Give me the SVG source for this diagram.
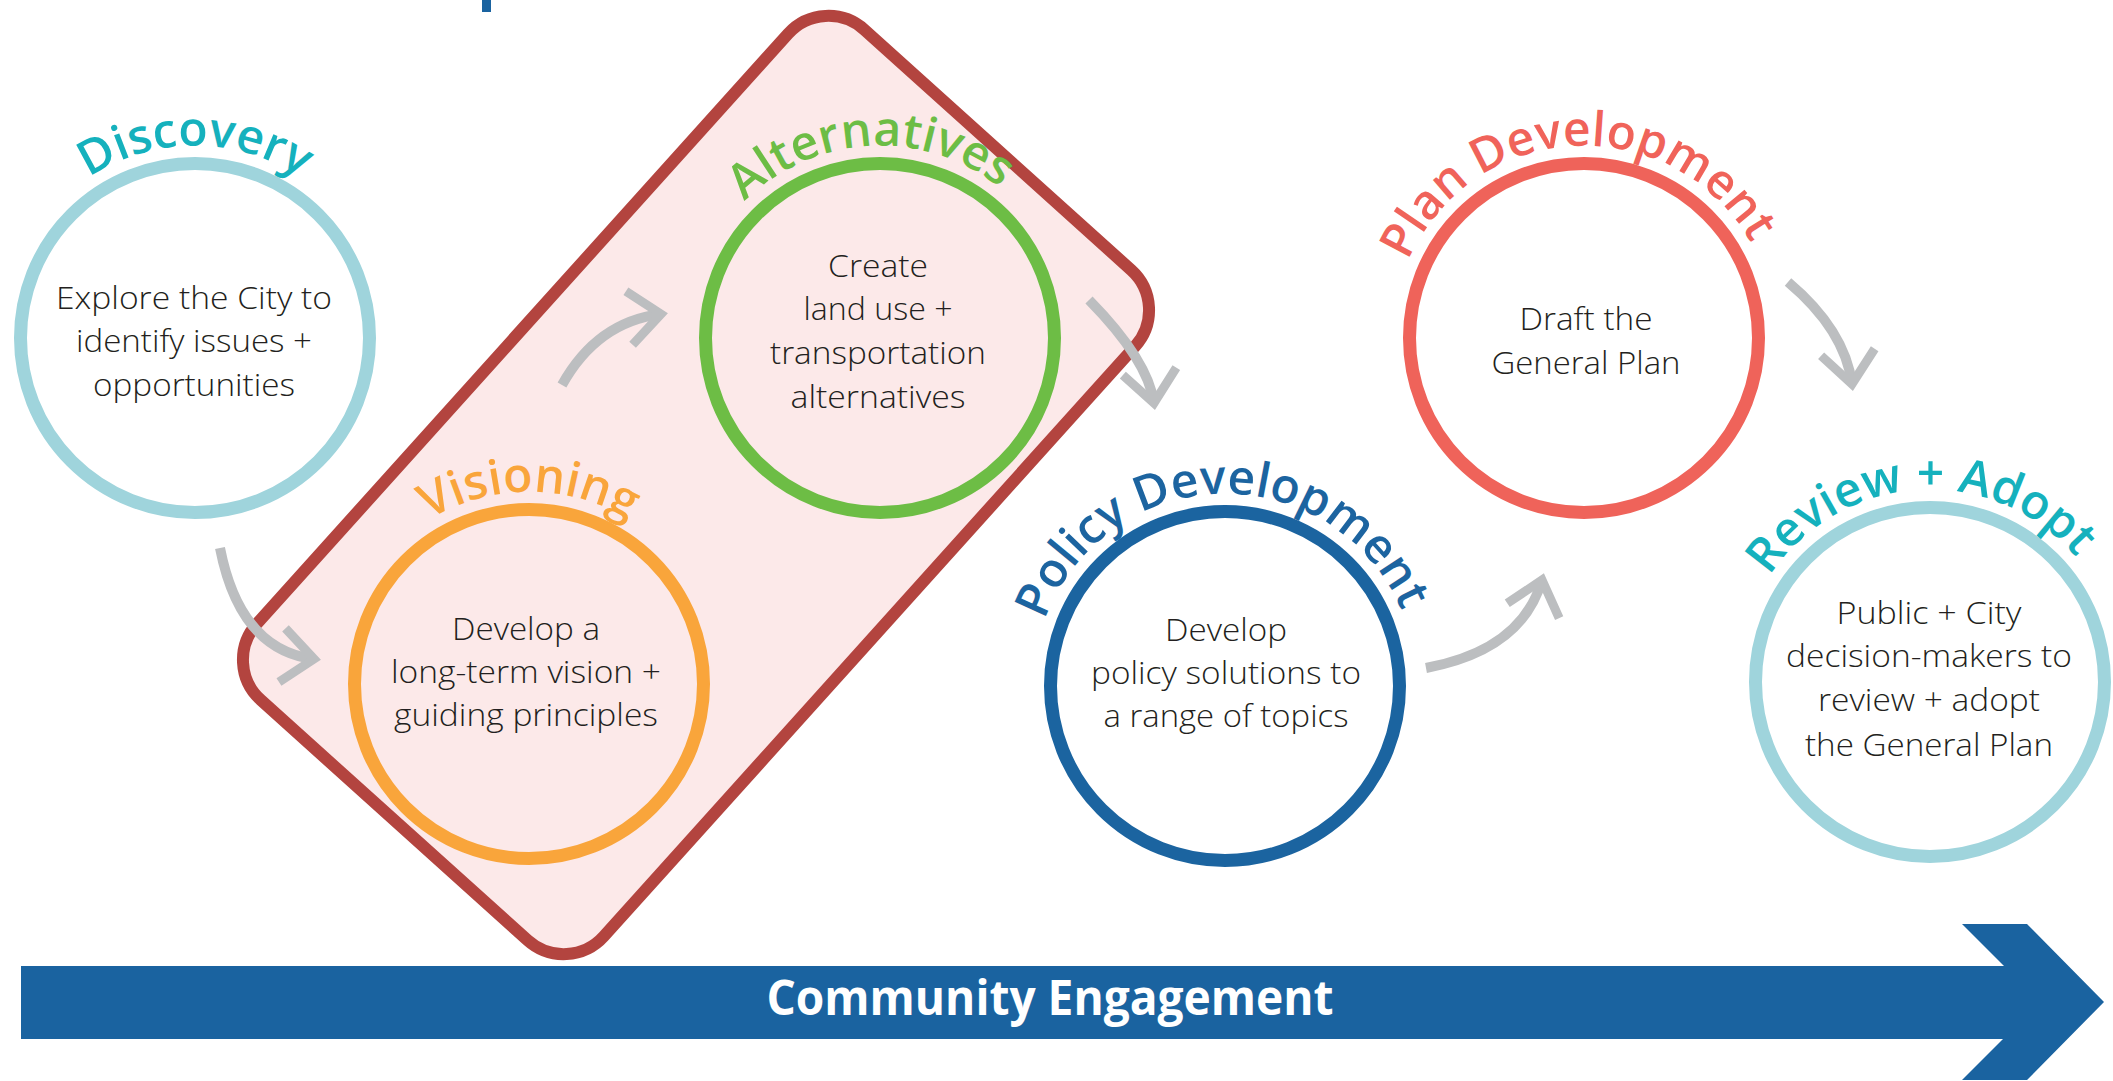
<svg xmlns="http://www.w3.org/2000/svg" xmlns:xlink="http://www.w3.org/1999/xlink" width="2113" height="1081" viewBox="0 0 2113 1081">
<style>
.ring{fill:#ffffff;stroke-width:13}
.ring-in{fill:none;stroke-width:13}
.body{font-family:"Open Sans","Liberation Sans",sans-serif;font-weight:300;font-size:32px;fill:#231f20;text-anchor:middle}
.ttl{font-family:"Open Sans","Liberation Sans",sans-serif;font-weight:600;font-size:48px;text-anchor:middle}
.conn{fill:none;stroke:#bcbec0;stroke-width:10;marker-end:url(#chev)}
</style>
<defs>
<path id="arc" d="M-191.3,-16.7 A192,192 0 0,1 191.3,-16.7"/>
<marker id="chev" markerUnits="userSpaceOnUse" viewBox="-50 -40 60 80" markerWidth="60" markerHeight="80" refX="0" refY="0" orient="auto" overflow="visible">
<path d="M-32,-27 L0,0 L-32,27" fill="none" stroke="#bcbec0" stroke-width="9"/>
</marker>
</defs>
<rect width="2113" height="1081" fill="#ffffff"/>
<rect x="482" y="0" width="9" height="12" fill="#1a63a0"/>

<g id="group-box">
<rect x="-451" y="-233.5" width="902" height="467" rx="54" transform="translate(696,485) rotate(-48)" fill="#fce9e9" stroke="#b3443f" stroke-width="12"/>
</g>

<g id="discovery">
<circle class="ring" cx="195" cy="338" r="174.5" stroke="#9fd4dc"/>
<text class="ttl" fill="#15b1bd" transform="translate(195,338)"><textPath xlink:href="#arc" href="#arc" startOffset="50%">Discovery</textPath></text>
<text class="body" x="194" y="309" textLength="276" lengthAdjust="spacingAndGlyphs">Explore the City to</text>
<text class="body" x="194" y="352" textLength="236" lengthAdjust="spacingAndGlyphs">identify issues +</text>
<text class="body" x="194" y="396" textLength="202" lengthAdjust="spacingAndGlyphs">opportunities</text>
</g>

<g id="alternatives">
<circle class="ring-in" cx="880" cy="338" r="174.5" stroke="#6dbd45"/>
<text class="ttl" fill="#6cbd45" transform="translate(880,338) rotate(-3)"><textPath xlink:href="#arc" href="#arc" startOffset="50%">Alternatives</textPath></text>
<text class="body" x="878" y="277" textLength="100" lengthAdjust="spacingAndGlyphs">Create</text>
<text class="body" x="878" y="320" textLength="149" lengthAdjust="spacingAndGlyphs">land use +</text>
<text class="body" x="878" y="364" textLength="216" lengthAdjust="spacingAndGlyphs">transportation</text>
<text class="body" x="878" y="408" textLength="175" lengthAdjust="spacingAndGlyphs">alternatives</text>
</g>

<g id="visioning">
<circle class="ring-in" cx="529" cy="684" r="174.5" stroke="#f9a53b"/>
<text class="ttl" fill="#f9a53b" transform="translate(529,684)"><textPath xlink:href="#arc" href="#arc" startOffset="50%">Visioning</textPath></text>
<text class="body" x="526" y="640" textLength="148" lengthAdjust="spacingAndGlyphs">Develop a</text>
<text class="body" x="526" y="683" textLength="270" lengthAdjust="spacingAndGlyphs">long-term vision +</text>
<text class="body" x="526" y="726" textLength="264" lengthAdjust="spacingAndGlyphs">guiding principles</text>
</g>

<g id="policy-development">
<circle class="ring" cx="1225" cy="686" r="174.5" stroke="#1b64a0"/>
<text class="ttl" fill="#1c64a0" transform="translate(1225,686) rotate(-1.5)"><textPath xlink:href="#arc" href="#arc" startOffset="50%">Policy Development</textPath></text>
<text class="body" x="1226" y="641" textLength="122" lengthAdjust="spacingAndGlyphs">Develop</text>
<text class="body" x="1226" y="684" textLength="270" lengthAdjust="spacingAndGlyphs">policy solutions to</text>
<text class="body" x="1226" y="727" textLength="245" lengthAdjust="spacingAndGlyphs">a range of topics</text>
</g>

<g id="plan-development">
<circle class="ring" cx="1584" cy="338" r="174.5" stroke="#ef635a"/>
<text class="ttl" fill="#f0635a" transform="translate(1584,338) rotate(-3)"><textPath xlink:href="#arc" href="#arc" startOffset="50%">Plan Development</textPath></text>
<text class="body" x="1586" y="330" textLength="133" lengthAdjust="spacingAndGlyphs">Draft the</text>
<text class="body" x="1586" y="374" textLength="189" lengthAdjust="spacingAndGlyphs">General Plan</text>
</g>

<g id="review-adopt">
<circle class="ring" cx="1930" cy="682" r="174.5" stroke="#9fd4dc"/>
<text class="ttl" fill="#15b1bd" transform="translate(1930,682) rotate(-3.5)"><textPath xlink:href="#arc" href="#arc" startOffset="50%">Review + Adopt</textPath></text>
<text class="body" x="1929" y="624" textLength="185" lengthAdjust="spacingAndGlyphs">Public + City</text>
<text class="body" x="1929" y="667" textLength="286" lengthAdjust="spacingAndGlyphs">decision-makers to</text>
<text class="body" x="1929" y="711" textLength="222" lengthAdjust="spacingAndGlyphs">review + adopt</text>
<text class="body" x="1929" y="756" textLength="248" lengthAdjust="spacingAndGlyphs">the General Plan</text>
</g>

<g id="connectors">
<path class="conn" d="M220,548 Q240,650 314,659"/>
<path class="conn" d="M562,385 Q597,322 661,314"/>
<path class="conn" d="M1089,300 Q1148,360 1154,403"/>
<path class="conn" d="M1426,668 Q1522,650 1542,580"/>
<path class="conn" d="M1788,282 Q1845,330 1852,384"/>
</g>

<g id="community-engagement">
<polygon points="21,966 2004,966 1962,924 2027,924 2104,1002 2027,1080 1962,1080 2003,1039 21,1039" fill="#1a63a0"/>
<text x="1050" y="1015" font-family="Open Sans, Liberation Sans, sans-serif" font-weight="700" font-size="48" fill="#ffffff" text-anchor="middle" textLength="567" lengthAdjust="spacingAndGlyphs">Community Engagement</text>
</g>
</svg>
